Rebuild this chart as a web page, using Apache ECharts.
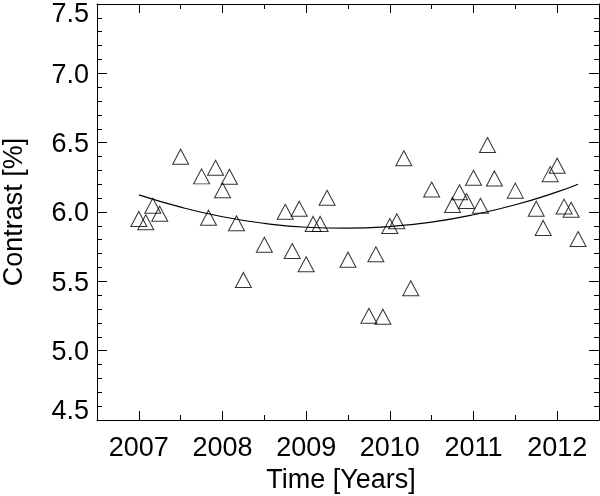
<!DOCTYPE html>
<html><head><meta charset="utf-8">
<script src="https://cdn.jsdelivr.net/npm/echarts@6/dist/echarts.min.js"></script>
<style>html,body{margin:0;padding:0;background:#fff}#c{width:600px;height:496px}</style>
</head><body><div id="c"></div>
<script>
// ---- data ----
const pointYears = [
  2007.000, 2007.083, 2007.167, 2007.250, 2007.500, 2007.750, 2007.833, 2007.917,
  2008.000, 2008.083, 2008.167, 2008.250, 2008.500, 2008.750, 2008.833, 2008.917,
  2009.000, 2009.083, 2009.167, 2009.250, 2009.500, 2009.750, 2009.833, 2009.917,
  2010.000, 2010.083, 2010.167, 2010.250, 2010.500, 2010.750, 2010.833, 2010.917,
  2011.000, 2011.083, 2011.167, 2011.250, 2011.500, 2011.750, 2011.833, 2011.917,
  2012.000, 2012.083, 2012.167, 2012.250
];
const contrastValues = [
  5.950, 5.926, 6.045, 5.988, 6.399, 6.257, 5.959, 6.319,
  6.157, 6.254, 5.919, 5.510, 5.764, 6.002, 5.719, 6.024,
  5.623, 5.914, 5.914, 6.103, 5.656, 5.252, 5.695, 5.245,
  5.899, 5.933, 6.387, 5.450, 6.162, 6.051, 6.142, 6.079,
  6.247, 6.045, 6.483, 6.242, 6.154, 6.024, 5.885, 6.273,
  6.334, 6.039, 6.016, 5.805
];
const fitYears  = [2007.0, 2007.5, 2008.0, 2008.5, 2009.0, 2009.5, 2010.0, 2010.5, 2011.0, 2011.5, 2012.0, 2012.25];
const fitValues = [6.123, 6.035, 5.966, 5.918, 5.890, 5.883, 5.895, 5.927, 5.980, 6.052, 6.145, 6.200];
const yearTicks = [2007, 2008, 2009, 2010, 2011, 2012];
const halfYearTicks = [2007.5, 2008.5, 2009.5, 2010.5, 2011.5];
const xTitle = 'Time [Years]';
const yTitle = 'Contrast [%]';

const FONT = "'Liberation Sans', Arial, Helvetica, sans-serif";
const FS = 27;
const BLACK = '#000';
const X_MIN = 2006.5, X_MAX = 2012.5, Y_MIN = 4.5, Y_MAX = 7.5;

function xAxisDef(pos, ticks, len, showLine, showLabel, withName) {
  const a = {
    type: 'value', position: pos, min: X_MIN, max: X_MAX,
    axisLine: { show: showLine, onZero: false, lineStyle: { color: BLACK, width: 1 } },
    axisTick: { show: true, inside: true, length: len, customValues: ticks, lineStyle: { color: BLACK, width: 1 } },
    axisLabel: showLabel ? {
      show: true, customValues: ticks, margin: 15, color: BLACK, fontSize: FS, fontFamily: FONT,
      formatter: v => String(Math.round(v))
    } : { show: false },
    splitLine: { show: false }
  };
  if (withName) {
    a.name = xTitle; a.nameLocation = 'middle'; a.nameGap = 47;
    a.nameTextStyle = { color: BLACK, fontSize: FS, fontFamily: FONT, padding: [0, 14, 0, 0] };
  }
  return a;
}
function yAxisDef(pos, showLabel, withName) {
  const a = {
    type: 'value', position: pos, min: Y_MIN, max: Y_MAX, interval: 0.5,
    axisLine: { show: true, onZero: false, lineStyle: { color: BLACK, width: 1 } },
    axisTick: { show: true, inside: true, length: 10, lineStyle: { color: BLACK, width: 1 } },
    minorTick: { show: true, splitNumber: 5, length: 5, lineStyle: { color: BLACK, width: 1 } },
    axisLabel: showLabel ? {
      show: true, margin: 8, color: BLACK, fontSize: FS, fontFamily: FONT,
      showMinLabel: true, showMaxLabel: true,
      formatter: v => {
        const s = v.toFixed(1);
        if (Math.abs(v - Y_MAX) < 1e-9) return '{top|' + s + '}';
        if (Math.abs(v - Y_MIN) < 1e-9) return '{bot|' + s + '}';
        return '{n|' + s + '}';
      },
      rich: {
        top: { fontSize: FS, fontFamily: FONT, color: BLACK, padding: [22, 0, 0, 0] },
        bot: { fontSize: FS, fontFamily: FONT, color: BLACK, padding: [0, 0, 16, 0] },
        n:   { fontSize: FS, fontFamily: FONT, color: BLACK, padding: [4, 0, 0, 0] }
      }
    } : { show: false },
    splitLine: { show: false },
    minorSplitLine: { show: false }
  };
  if (withName) {
    a.name = yTitle; a.nameLocation = 'middle'; a.nameGap = 69; a.nameRotate = 90;
    a.nameTextStyle = { color: BLACK, fontSize: FS, fontFamily: FONT };
  }
  return a;
}

const chart = echarts.init(document.getElementById('c'), null, { renderer: 'canvas' });
chart.setOption({
  animation: false,
  backgroundColor: '#fff',
  grid: { left: 97, right: 1, top: 4, bottom: 76, containLabel: false, outerBoundsMode: 'none' },
  xAxis: [
    xAxisDef('bottom', yearTicks, 9, true, true, true),
    xAxisDef('bottom', halfYearTicks, 5, false, false, false),
    xAxisDef('top', yearTicks, 9, true, false, false),
    xAxisDef('top', halfYearTicks, 5, false, false, false)
  ],
  yAxis: [
    yAxisDef('left', true, true),
    yAxisDef('right', false, false)
  ],
  series: [
    {
      type: 'scatter', xAxisIndex: 0, yAxisIndex: 0,
      symbol: 'triangle', symbolSize: [16, 15],
      itemStyle: { color: 'rgba(0,0,0,0)', borderColor: BLACK, borderWidth: 1 },
      data: pointYears.map((t, i) => [t, contrastValues[i]]),
      z: 3
    },
    {
      type: 'line', xAxisIndex: 0, yAxisIndex: 0,
      smooth: true, showSymbol: false, symbol: 'none',
      lineStyle: { color: BLACK, width: 1.2 },
      data: fitYears.map((t, i) => [t, fitValues[i]]),
      z: 2
    }
  ]
});
</script></body></html>
